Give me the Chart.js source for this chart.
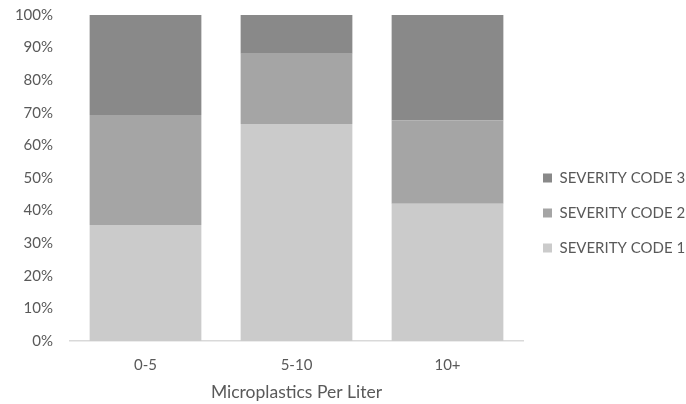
<!DOCTYPE html>
<html>
<head>
<meta charset="utf-8">
<script src="https://cdn.jsdelivr.net/npm/chart.js@4/dist/chart.umd.min.js"></script>
<style>
  html, body { margin: 0; padding: 0; background: #fff; }
  #wrap { width: 686px; height: 404px; }
</style>
</head>
<body>
<div id="wrap"><canvas id="c" width="686" height="404"></canvas></div>
<script>
const categories = ["0-5", "5-10", "10+"];
const severity1 = [35.6, 66.6, 42.1];
const severity2 = [33.7, 21.5, 25.5];
const severity3 = [30.7, 11.9, 32.4];
const seriesNames = ["SEVERITY CODE 1", "SEVERITY CODE 2", "SEVERITY CODE 3"];
const seriesColors = ["#cbcbcb", "#a5a5a5", "#898989"];

const textColor = "#595959";
const fam = "Lato, 'Open Sans', sans-serif";
const font = { family: fam, size: 15 };

new Chart(document.getElementById("c"), {
  type: "bar",
  data: {
    labels: categories,
    datasets: [severity1, severity2, severity3].map((vals, i) => ({
      label: seriesNames[i],
      data: vals,
      backgroundColor: seriesColors[i],
      borderWidth: 0,
      categoryPercentage: 1.0,
      barPercentage: 0.74
    }))
  },
  options: {
    responsive: false,
    animation: false,
    layout: { padding: 0 },
    scales: {
      x: {
        stacked: true,
        grid: { display: false, drawTicks: false },
        border: { color: "#d9d9d9", width: 1.5 },
        ticks: { color: textColor, font: font, padding: 15 },
        title: {
          display: true,
          text: "Microplastics Per Liter",
          color: textColor,
          font: { family: fam, size: 17.5 },
          padding: { top: 8, bottom: 1 }
        },
        // fixed height so the axis sits where the original has it
        afterFit: s => { s.height = 63; }
      },
      y: {
        stacked: true,
        min: 0,
        max: 100,
        grid: { display: false, drawTicks: false },
        border: { display: false },
        ticks: {
          stepSize: 10,
          color: textColor,
          font: font,
          padding: 17,
          callback: v => v + "%"
        },
        afterFit: s => {
          s.width = 70;
          s.paddingTop = 15;
          s.paddingBottom = 9;
        }
      }
    },
    plugins: {
      legend: {
        position: "right",
        reverse: true,
        maxWidth: 163,
        title: {
          display: true,
          text: " ",
          font: { family: fam, size: 10 },
          padding: { top: 0, bottom: 10 }
        },
        labels: {
          color: textColor,
          font: font,
          boxWidth: 9,
          boxHeight: 9,
          padding: 20
        }
      },
      tooltip: { enabled: false }
    }
  }
});
</script>
</body>
</html>
